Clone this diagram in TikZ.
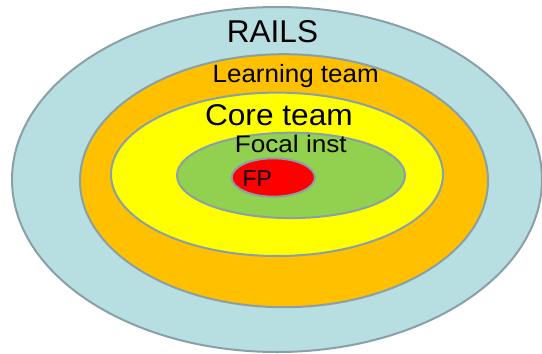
\documentclass[tikz,border=0pt]{standalone}
\usepackage{fontspec}
\setmainfont{Liberation Sans}
\usepackage{xcolor}
\usepackage{tikz}
\usetikzlibrary{positioning}

\definecolor{railsblue}{RGB}{183,222,225}
\definecolor{learnorange}{RGB}{255,192,0}
\definecolor{coreyellow}{RGB}{255,255,0}
\definecolor{focalgreen}{RGB}{146,208,80}
\definecolor{fpred}{RGB}{255,0,0}
\definecolor{ringline}{RGB}{137,160,168}

\begin{document}
\begin{tikzpicture}[x=1pt, y=-1pt,
  ring/.style={draw=ringline, line width=2pt},
  lbl/.style={anchor=base, inner sep=0pt}]

\useasboundingbox (0,0) rectangle (542,354);

% Outer ring
\filldraw[ring, fill=railsblue] (277,179.5) ellipse [x radius=265, y radius=172.5];

% Learning team ring
\filldraw[ring, fill=learnorange] (284,180.7) ellipse [x radius=204, y radius=126.5];

% Core team ring
\filldraw[ring, fill=coreyellow] (277,174.3) ellipse [x radius=166, y radius=81.7];

% Focal institution
\filldraw[ring, fill=focalgreen] (291,175.4) ellipse [x radius=114, y radius=42.7];

% FP at the centre
\filldraw[ring, fill=fpred] (273.3,177.5) ellipse [x radius=41.7, y radius=19.2];

% Labels
\node[lbl, font=\fontsize{31.5}{34}\selectfont] (rails) at (272.5,42.7) {RAILS};
\node[lbl, font=\fontsize{25}{27}\selectfont] (learning) at (295.7,82.3) {\scalebox{1.04}[1]{Learning team}};
\node[lbl, font=\fontsize{30}{32}\selectfont] (core) at (278.9,125.7) {\scalebox{1.055}[1]{Core team}};
\node[lbl, font=\fontsize{24}{26}\selectfont] (focal) at (290.8,152.3) {\scalebox{1.09}[1]{Focal inst}};
\node[lbl, font=\fontsize{23}{25}\selectfont] (fp) at (257.2,186.7) {FP};

\end{tikzpicture}
\end{document}
